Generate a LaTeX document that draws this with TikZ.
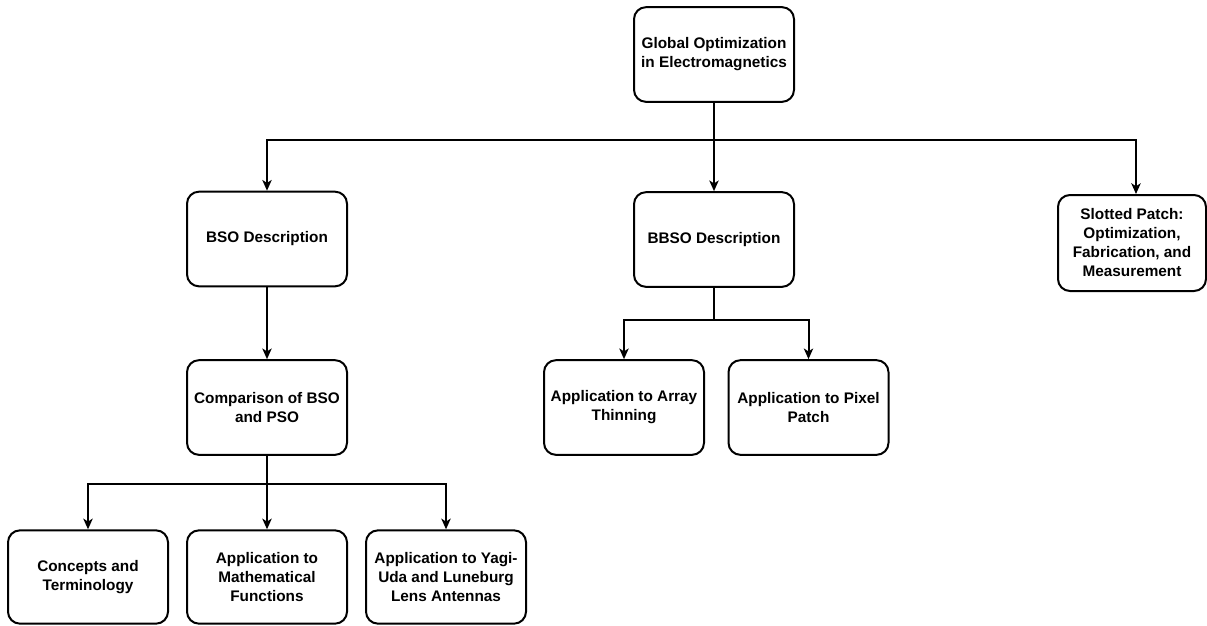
\documentclass[tikz,border=0pt]{standalone}
\usepackage{fontspec}
\setmainfont{Liberation Sans}
\usetikzlibrary{arrows.meta}

\tikzset{
  box/.style={draw=black, line width=1.5pt, rounded corners=9pt, fill=white,
    minimum width=120pt, minimum height=71pt, align=center,
    font=\bfseries\fontsize{11.5}{14.25}\selectfont, inner sep=2pt},
  link/.style={line width=1.5pt, draw=black},
  arr/.style={link, -{Stealth[length=8pt,width=7pt,inset=2.2pt]}}
}

\begin{document}
\begin{tikzpicture}[x=0.75pt,y=-0.75pt]
  \useasboundingbox (0,0) rectangle (1207,625);

  % boxes
  \node[box] (root) at (714,54.5) {Global Optimization\\in Electromagnetics};
  \node[box] (bso)  at (267,239)  {BSO Description};
  \node[box] (bbso) at (714,239.5) {BBSO Description};
  \node[box, minimum width=111pt, minimum height=72pt] (slot) at (1132,243)
    {Slotted Patch:\\Optimization,\\Fabrication, and\\Measurement};
  \node[box] (comp) at (267,407.5) {Comparison of BSO\\and PSO};
  \node[box] (thin) at (624,407.5) {Application to Array\\Thinning};
  \node[box] (pix)  at (808.5,407.5) {Application to Pixel\\Patch};
  \node[box, minimum height=70pt] (conc) at (88,577)  {Concepts and\\Terminology};
  \node[box, minimum height=70pt] (math) at (267,577) {Application to\\Mathematical\\Functions};
  \node[box, minimum height=70pt] (yagi) at (446,577) {Application to Yagi-\\Uda and Luneburg\\Lens Antennas};

  % branching points
  \coordinate (hub)  at (714,140);
  \coordinate (hubb) at (714,320);
  \coordinate (hubc) at (267,484);

  % top level
  \draw[arr] (root) -- (bbso);
  \draw[arr] (hub) -| (bso);
  \draw[arr] (hub) -| ([xshift=3pt]slot.north);

  % BSO branch
  \draw[arr] (bso) -- (comp);
  \draw[arr] (comp) -- (math);
  \draw[arr] (hubc) -| (conc);
  \draw[arr] (hubc) -| (yagi);

  % BBSO branch
  \draw[link] (bbso) -- (hubb);
  \draw[arr] (hubb) -| (thin);
  \draw[arr] (hubb) -| (pix);
\end{tikzpicture}
\end{document}
